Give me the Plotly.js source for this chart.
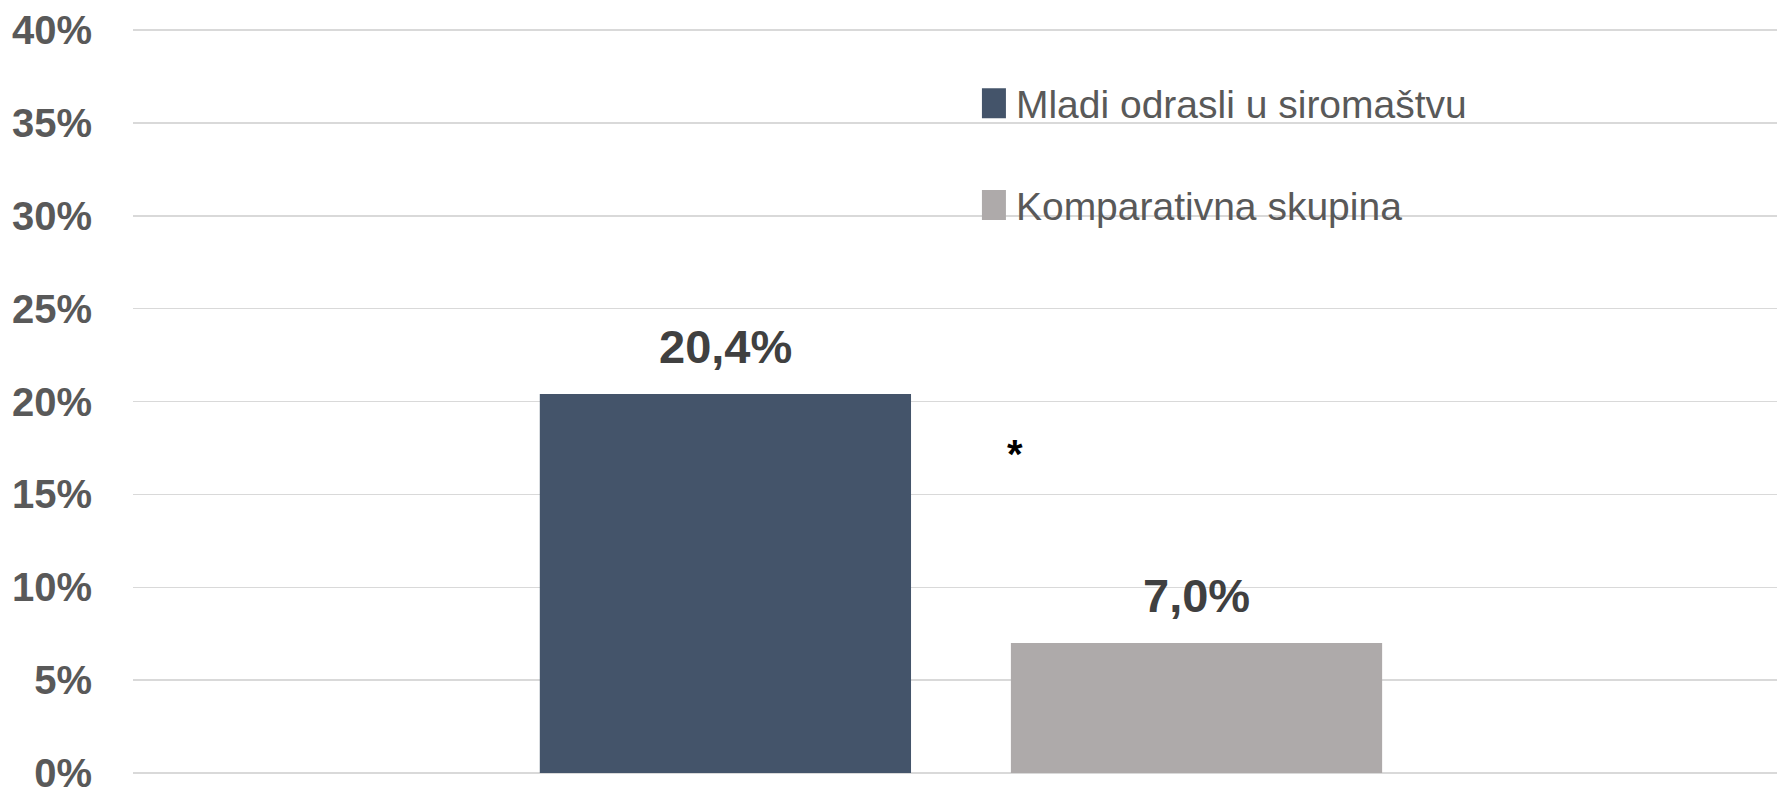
<!DOCTYPE html>
<html>
<head>
<meta charset="utf-8">
<script src="https://cdn.plot.ly/plotly-3.0.1.min.js"></script>
<style>html,body{margin:0;padding:0;background:#fff;}#chart{width:1777px;height:787px;}</style>
</head>
<body>
<div id="chart"></div>
<script>
// ---- data ----
const categories = [""];
const seriesNames = ["Mladi odrasli u siromaštvu", "Komparativna skupina"];
const youngPoor = [0.204];
const comparison = [0.070];
const valueLabels = [["20,4%"], ["7,0%"]];
const yTickValues = [0, 0.05, 0.10, 0.15, 0.20, 0.25, 0.30, 0.35, 0.40];
const yTickLabels = ["0%", "5%", "10%", "15%", "20%", "25%", "30%", "35%", "40%"];
const significanceMark = "*";

// ---- styling ----
const FONT = "'Liberation Sans', Arial, sans-serif";
const colors = ["#44546A", "#AEAAAA"];
const bargap = 0.431;
const bargroupgap = 0.212;

const seriesValues = [youngPoor, comparison];
const traces = seriesValues.map((vals, i) => ({
  type: "bar",
  x: categories,
  y: vals,
  name: seriesNames[i],
  legendgroup: "g" + i,
  marker: {color: colors[i]},
  hoverinfo: "none"
}));

// value labels placed over each bar centre, derived from the bar layout parameters
const nSeries = seriesValues.length;
const slot = (1 - bargap) / nSeries;
const annotations = [];
seriesValues.forEach((vals, i) => {
  vals.forEach((v, c) => {
    annotations.push({
      x: c - (1 - bargap) / 2 + slot * (i + 0.5),
      y: v,
      xref: "x", yref: "y",
      text: valueLabels[i][c],
      showarrow: false,
      yanchor: "bottom",
      yshift: 19,
      font: {family: FONT, size: 47, color: "#404040", weight: "bold"}
    });
  });
});
annotations.push({
  x: 0.5365, xref: "paper",
  y: 0.1715, yref: "y",
  text: significanceMark,
  showarrow: false,
  font: {family: FONT, size: 40, color: "#000000", weight: "bold"}
});

const pad = 0.4 / 743 * 2;
const layout = {
  width: 1777, height: 787,
  margin: {l: 133, r: 0, t: 28, b: 12, pad: 0},
  paper_bgcolor: "#ffffff",
  plot_bgcolor: "#ffffff",
  barmode: "group",
  bargap: bargap,
  bargroupgap: bargroupgap,
  font: {family: FONT},
  showlegend: true,
  legend: {
    x: 0.5103, xanchor: "left",
    y: 0.942, yanchor: "top",
    bgcolor: "rgba(0,0,0,0)",
    borderwidth: 0,
    traceorder: "grouped",
    tracegroupgap: 48,
    itemwidth: 34,
    font: {family: FONT, size: 39, color: "#595959"}
  },
  xaxis: {
    type: "category",
    range: [-0.5, 0.4928],
    showgrid: false, zeroline: false, showline: false,
    showticklabels: false, ticks: ""
  },
  yaxis: {
    range: [-pad, 0.40 + pad],
    tickvals: yTickValues,
    ticktext: yTickLabels,
    showgrid: true,
    gridcolor: "#D9D9D9",
    gridwidth: 1.5,
    zeroline: false,
    showline: false,
    ticks: "",
    ticklabelstandoff: 40,
    ticklabeloverflow: "allow",
    tickfont: {family: FONT, size: 40, color: "#595959", weight: "bold"}
  },
  annotations: annotations
};

Plotly.newPlot("chart", traces, layout, {displayModeBar: false, staticPlot: true}).then(() => {
  document.querySelectorAll(".legend .legendpoints path").forEach(p => {
    p.setAttribute("d", "M12,15H-12V-15H12Z");
  });
});
</script>
</body>
</html>
